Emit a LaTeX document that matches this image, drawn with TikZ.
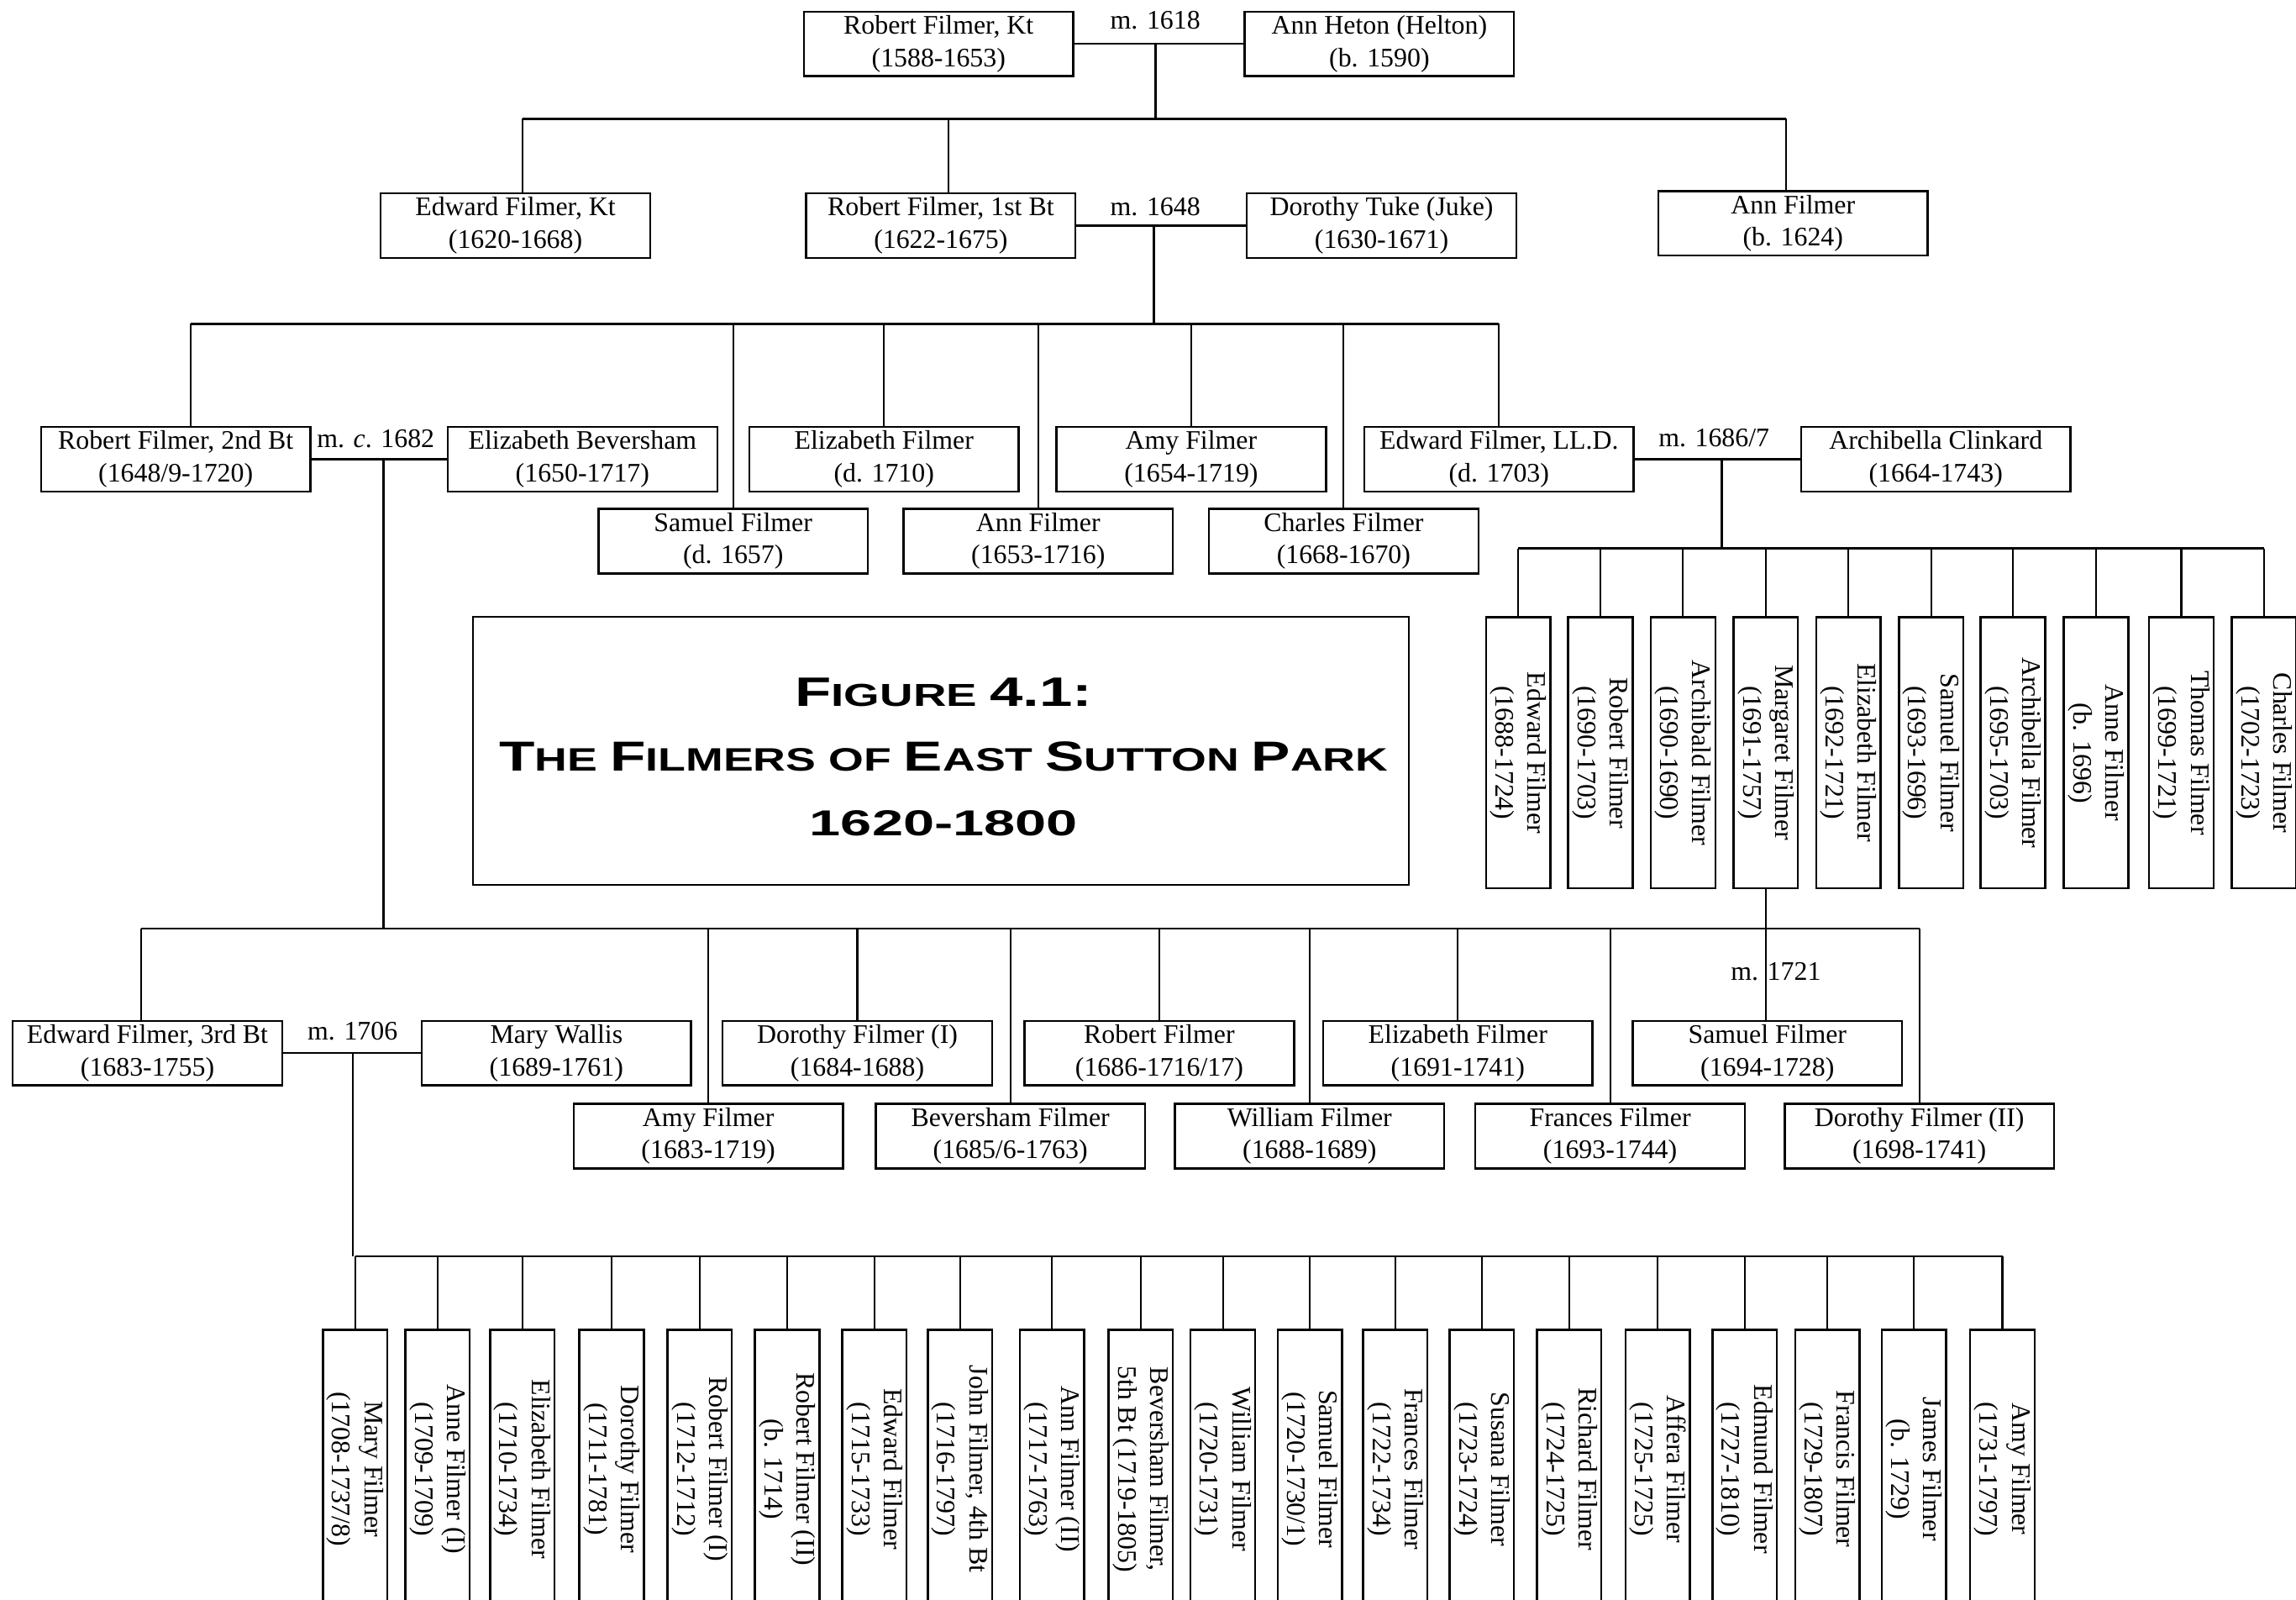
\documentclass[tikz,border=0pt]{standalone}
\usepackage{graphicx}
\usepackage{fontspec}
\setmainfont{Liberation Serif}
\newfontfamily\titlefont{Liberation Sans}
\usetikzlibrary{calc}

\tikzset{
  person/.style={draw,line width=0.8pt,minimum width=36.8mm,minimum height=8.8mm,
    inner sep=0pt,align=center},
  vperson/.style={draw,line width=0.8pt,minimum width=8.8mm,minimum height=37mm,inner sep=0pt},
  wed/.style={line width=0.75pt},
  bar/.style={line width=0.9pt},
  drop/.style={line width=0.7pt},
  mlabel/.style={anchor=base,inner sep=0pt}
}
\newcommand{\vtext}[2]{\rotatebox{-90}{\begin{tabular}{@{}c@{}}#1\\#2\end{tabular}}}
\newcommand{\tcap}[1]{{\fontsize{15}{15}\selectfont #1}}

\begin{document}
\begin{tikzpicture}[x=0.2mm,y=-0.2mm,font=\fontsize{10.4}{12.5}\selectfont]
\useasboundingbox (0,0) rectangle (1568,1092);
% ---------- generation 1: Robert Filmer, Kt m. 1618 ----------
\node[person] (rfk) at (641,30) {Robert Filmer, Kt\\(1588-1653)};
\node[person] (heton) at (942,30) {Ann Heton (Helton)\\(b. 1590)};
\node[mlabel] (m1618) at (789,20) {m. 1618};
\draw[wed] (rfk.east) -- (heton.west);
\coordinate (w1) at (789,30);
\coordinate (k1) at (789,81);
\draw[bar] (w1) -- (k1);
% ---------- generation 2 ----------
\node[person] (ekt) at (352,154) {Edward Filmer, Kt\\(1620-1668)};
\node[person] (rf1) at (642.5,154) {Robert Filmer, 1st Bt\\(1622-1675)};
\node[person] (tuke) at (943.5,154) {Dorothy Tuke (Juke)\\(1630-1671)};
\node[person] (afil) at (1224.5,152.5) {Ann Filmer\\(b. 1624)};
\draw[bar] ([xshift=1mm]ekt.north |- k1) -- ([xshift=-1mm]afil.north |- k1);
\foreach \n/\dx in {ekt/1,rf1/1,afil/-1}{
  \draw[drop] ([xshift=\dx mm]\n.north) -- ([xshift=\dx mm]\n.north |- k1);}
\node[mlabel] (m1648) at (789,147) {m. 1648};
\draw[wed] (rf1.east) -- (tuke.west);
\coordinate (w2) at (788,154);
\coordinate (k2) at (788,221);
\draw[bar] (w2) -- (k2);
% ---------- generation 3: children of the 1st Bt ----------
\node[person] (r2) at (120,313.5) {Robert Filmer, 2nd Bt\\(1648/9-1720)};
\node[person] (bev) at (397.8,313.5) {Elizabeth Beversham\\(1650-1717)};
\node[person] (efd) at (603.7,313.5) {Elizabeth Filmer\\(d. 1710)};
\node[person] (amy1) at (813.5,313.5) {Amy Filmer\\(1654-1719)};
\node[person] (ell) at (1023.7,313.5) {Edward Filmer, LL.D.\\(d. 1703)};
\node[person] (clink) at (1322,313.5) {Archibella Clinkard\\(1664-1743)};
\node[person] (sam1) at (500.7,369.5) {Samuel Filmer\\(d. 1657)};
\node[person] (ann1) at (709,369.5) {Ann Filmer\\(1653-1716)};
\node[person] (cha1) at (917.6,369.5) {Charles Filmer\\(1668-1670)};
\draw[bar] ([xshift=2mm]r2.north |- k2) -- (ell.north |- k2);
\draw[drop] ([xshift=2mm]r2.north) -- ([xshift=2mm]r2.north |- k2);
\foreach \n in {sam1,efd,ann1,amy1,cha1,ell}{
  \draw[drop] (\n.north) -- (\n.north |- k2);}
\node[mlabel] (m1682) at (256.6,305.6) {m. \textit{c}. 1682};
\draw[wed] (r2.east) -- (bev.west);
\coordinate (w3) at (262,313.5);
\coordinate (k3) at (262,634);
\draw[bar] (w3) -- (k3);
\node[mlabel] (m1686) at (1170.5,305) {m. 1686/7};
\draw[wed] (ell.east) -- (clink.west);
\coordinate (w4) at (1176,313.5);
\coordinate (k4) at (1176,374.5);
\draw[bar] (w4) -- (k4);
% ---------- children of Edward Filmer, LL.D. (upright boxes) ----------
\foreach \i/\x/\a/\b in {1/1036.8/Edward Filmer/(1688-1724), 2/1092.9/Robert Filmer/(1690-1703),
  3/1149.4/Archibald Filmer/(1690-1690), 4/1205.9/Margaret Filmer/(1691-1757),
  5/1262.3/Elizabeth Filmer/(1692-1721), 6/1318.8/Samuel Filmer/(1693-1696),
  7/1374.6/Archibella Filmer/(1695-1703), 8/1431.4/Anne Filmer/(b. 1696),
  9/1489.7/Thomas Filmer/(1699-1721), 10/1546.2/Charles Filmer/(1702-1723)}{
  \node[vperson] (ll\i) at (\x,514) {\vtext{\a}{\b}};
  \draw[drop] (ll\i.north) -- (ll\i.north |- k4);}
\draw[bar] (ll1.north |- k4) -- (ll10.north |- k4);
% ---------- title ----------
\node[draw,line width=0.7pt,minimum width=127.8mm,minimum height=36.6mm,inner sep=0pt]
  (titlebox) at (642.5,512.5) {};
\node[align=center,inner sep=0pt,font=\titlefont\bfseries\fontsize{11.6}{25.2}\selectfont]
  (title) at (644.5,516.9) {%
  \resizebox{40.6mm}{3.86mm}{\tcap{F}IGURE \tcap{4.1:}}\\
  \resizebox{121.4mm}{4mm}{\tcap{T}HE \tcap{F}ILMERS OF \tcap{E}AST \tcap{S}UTTON \tcap{P}ARK}\\
  \resizebox{36.6mm}{3.44mm}{\tcap{1620-1800}}};
% ---------- generation 4: children of the 2nd Bt ----------
\node[person] (e3) at (100.7,719) {Edward Filmer, 3rd Bt\\(1683-1755)};
\node[person] (wallis) at (380,719) {Mary Wallis\\(1689-1761)};
\node[person] (dor1) at (585.5,719) {Dorothy Filmer (I)\\(1684-1688)};
\node[person] (rob3) at (791.7,719) {Robert Filmer\\(1686-1716/17)};
\node[person] (eliz3) at (995.6,719) {Elizabeth Filmer\\(1691-1741)};
\node[person] (sam2) at (1207,719) {Samuel Filmer\\(1694-1728)};
\node[person] (amy3) at (483.7,775.7) {Amy Filmer\\(1683-1719)};
\node[person] (bevf) at (690,775.7) {Beversham Filmer\\(1685/6-1763)};
\node[person] (wil) at (894.3,775.7) {William Filmer\\(1688-1689)};
\node[person] (fra) at (1099.6,775.7) {Frances Filmer\\(1693-1744)};
\node[person] (dor2) at (1310.8,775.7) {Dorothy Filmer (II)\\(1698-1741)};
\draw[bar] ([xshift=-0.9mm]e3.north |- k3) -- (dor2.north |- k3);
\draw[drop] ([xshift=-0.9mm]e3.north) -- ([xshift=-0.9mm]e3.north |- k3);
\foreach \n in {amy3,dor1,bevf,rob3,wil,eliz3,fra,dor2}{
  \draw[drop] (\n.north) -- (\n.north |- k3);}
% Margaret m. her cousin Samuel
\draw[drop] (ll4.south) -- (ll4.south |- sam2.north);
\node[mlabel] (m1721) at (1212.8,669) {m. 1721};
\node[mlabel] (m1706) at (240.8,710) {m. 1706};
\draw[wed] (e3.east) -- (wallis.west);
\coordinate (w5) at (241,719);
\coordinate (k5) at (241,857.7);
\draw[bar] (w5) -- (k5);
% ---------- generation 5: children of the 3rd Bt (upright boxes) ----------
\foreach \i/\x/\a/\b in {1/242.5/Mary Filmer/{(1708-1737/8)}, 2/298.8/Anne Filmer (I)/(1709-1709),
  3/356.7/Elizabeth Filmer/(1710-1734), 4/417.7/Dorothy Filmer/(1711-1781),
  5/477.8/Robert Filmer (I)/(1712-1712), 6/537.6/Robert Filmer (II)/(b. 1714),
  7/597.2/Edward Filmer/(1715-1733), 8/655.6/{John Filmer, 4th Bt}/(1716-1797),
  9/718.4/Ann Filmer (II)/(1717-1763), 10/779/{Beversham Filmer,}/{5th Bt (1719-1805)},
  11/835.1/William Filmer/(1720-1731), 12/894.5/Samuel Filmer/{(1720-1730/1)},
  13/952.9/Frances Filmer/(1722-1734), 14/1012/Susana Filmer/(1723-1724),
  15/1071.6/Richard Filmer/(1724-1725), 16/1132/Affera Filmer/(1725-1725),
  17/1191.5/Edmund Filmer/(1727-1810), 18/1248/Francis Filmer/(1729-1807),
  19/1307/James Filmer/(b. 1729), 20/1367.5/Amy Filmer/(1731-1797)}{
  \node[vperson,minimum height=38mm] (e3c\i) at (\x,1003) {\vtext{\a}{\b}};
  \draw[drop] (e3c\i.north) -- (e3c\i.north |- k5);}
\draw[bar] (e3c1.north |- k5) -- (e3c20.north |- k5);
\end{tikzpicture}
\end{document}
